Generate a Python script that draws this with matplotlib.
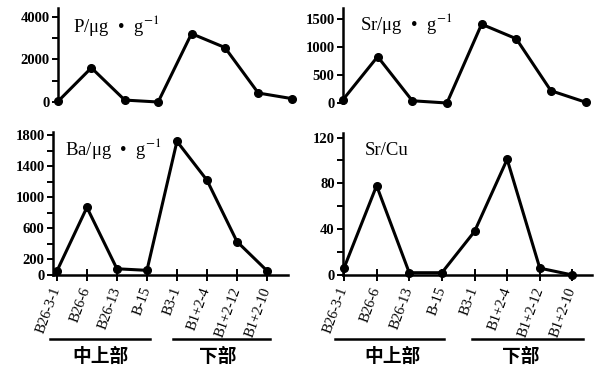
import matplotlib
matplotlib.use("Agg")
import matplotlib.pyplot as plt

plt.rcParams['font.family'] = ['Liberation Serif', 'DejaVu Serif']
plt.rcParams['mathtext.fontset'] = 'stix'

# sample names along the section
samples = ["B26-3-1", "B26-6", "B26-13", "B-15", "B3-1", "B1+2-4", "B1+2-12", "B1+2-10"]

p_vals = [30, 1600, 90, 0, 3200, 2550, 420, 160]
sr_vals = [60, 830, 40, 0, 1410, 1150, 220, 15]
ba_vals = [50, 870, 80, 60, 1720, 1220, 430, 55]
srcu_vals = [6, 78, 2, 2, 38, 101, 6, 0]

groups = ["中上部", "下部"]

W, H = 600, 371


def rect(left, top, right, bottom):
    return [left / W, 1 - bottom / H, (right - left) / W, (bottom - top) / H]


def style(ax, yticks, yminor, show_x):
    for s in ["top", "right"]:
        ax.spines[s].set_visible(False)
    ax.spines["left"].set_linewidth(1.8)
    ax.set_yticks(yticks)
    ax.set_yticks(yminor, minor=True)
    ax.tick_params(axis="y", which="both", direction="out", length=4, width=1.4,
                   labelsize=10.5, pad=2)
    for lab in ax.get_yticklabels():
        lab.set_fontweight("bold")
    if show_x:
        ax.spines["bottom"].set_linewidth(1.8)
        ax.set_xticks(range(len(samples)))
        ax.set_xticklabels(samples, rotation=70, ha="right", va="center",
                           rotation_mode="anchor", fontsize=10.5)
        ax.tick_params(axis="x", direction="inout", length=8, width=1.4, pad=5)
    else:
        ax.spines["bottom"].set_visible(False)
        ax.set_xticks([])


def draw(ax, vals):
    ax.plot(range(len(vals)), vals, color="black", lw=2.2, marker="o",
            markersize=5.5, clip_on=False, zorder=3)


fig = plt.figure(figsize=(6, 3.71), dpi=100)

# top left: P
ax1 = fig.add_axes(rect(58, 8, 295, 102))
draw(ax1, p_vals)
ax1.set_xlim(0, 7.1)
ax1.set_ylim(0, 4400)
style(ax1, [0, 2000, 4000], [1000, 3000], False)
ax1.text(0.063, 0.745, "P/μg  •  g$^{-1}$", transform=ax1.transAxes, fontsize=13.5,
         va="baseline")

# top right: Sr
ax2 = fig.add_axes(rect(343, 8, 589, 103))
draw(ax2, sr_vals)
ax2.set_xlim(0, 7.1)
ax2.set_ylim(0, 1700)
style(ax2, [0, 500, 1000, 1500], [], False)
ax2.text(0.07, 0.77, "Sr/μg  •  g$^{-1}$", transform=ax2.transAxes, fontsize=13.5,
         va="baseline")

# bottom left: Ba
ax3 = fig.add_axes(rect(53, 132, 288, 275))
draw(ax3, ba_vals)
ax3.set_xlim(-0.13, 7.7)
ax3.set_ylim(0, 1840)
style(ax3, [0, 200, 600, 1000, 1400, 1800], [400, 800, 1200, 1600], True)
ax3.text(0.05, 0.84, "Ba/μg  •  g$^{-1}$", transform=ax3.transAxes, fontsize=13.5,
         va="baseline")

# bottom right: Sr/Cu
ax4 = fig.add_axes(rect(343, 133, 592, 275))
draw(ax4, srcu_vals)
ax4.set_xlim(-0.03, 7.6)
ax4.set_ylim(0, 124)
style(ax4, [0, 40, 80, 120], [20, 60, 100], True)
ax4.text(0.088, 0.845, "Sr/Cu", transform=ax4.transAxes, fontsize=13.5,
         va="baseline")

# group brackets under the bottom panels
brackets = [(50, 150, 100), (173, 270, 218), (335, 444, 393), (472, 583, 521)]
for i, (x0, x1, xc) in enumerate(brackets):
    y = 1 - 339 / H
    fig.add_artist(plt.Line2D([x0 / W, x1 / W], [y, y], color="black", lw=1.8))
    fig.text(xc / W, 1 - 356 / H, groups[i % 2], ha="center", va="center",
             fontsize=13.5, fontweight="bold", family=["Noto Sans CJK SC"])

fig.savefig("out.png", dpi=100)
